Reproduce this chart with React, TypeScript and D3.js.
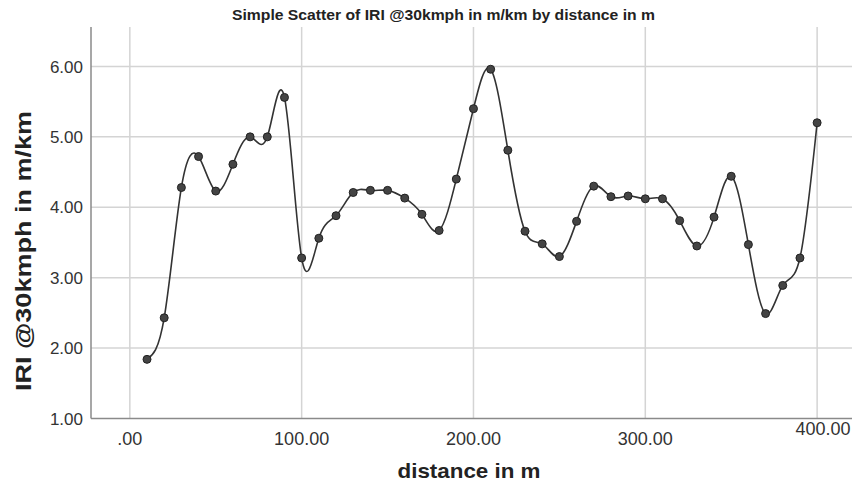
import React from "react";
import * as d3 from "d3";

const title = "Simple Scatter of IRI @30kmph in m/km by distance in m";
const xLabel = "distance in m";
const yLabel = "IRI @30kmph in m/km";

const distances = [10, 20, 30, 40, 50, 60, 70, 80, 90, 100, 110, 120, 130, 140, 150, 160, 170, 180, 190, 200,
  210, 220, 230, 240, 250, 260, 270, 280, 290, 300, 310, 320, 330, 340, 350, 360, 370, 380, 390, 400];
const iri = [1.84, 2.43, 4.28, 4.72, 4.23, 4.61, 5.0, 5.0, 5.56, 3.28, 3.56, 3.88, 4.21, 4.24, 4.24, 4.13, 3.9, 3.67, 4.4, 5.4,
  5.96, 4.81, 3.66, 3.48, 3.3, 3.8, 4.3, 4.15, 4.16, 4.12, 4.12, 3.81, 3.45, 3.86, 4.44, 3.47, 2.49, 2.89, 3.28, 5.2];

const xTicks = [0, 100, 200, 300, 400];
const yTicks = [1, 2, 3, 4, 5, 6];

const fmt = (v: number) => {
  const s = v.toFixed(2);
  return s.startsWith("0") ? s.slice(1) : s;
};

export default function App() {
  const W = 858, H = 489;
  const left = 91, right = 852, top = 27, bottom = 418.5;
  const x = d3.scaleLinear().domain([-22.6, 420.3]).range([left, right]);
  const y = d3.scaleLinear().domain([1, 6.56]).range([bottom, top]);
  const pts = distances.map((d, i) => [d, iri[i]] as [number, number]);
  const line = d3.line<[number, number]>().x(d => x(d[0])).y(d => y(d[1])).curve(d3.curveNatural);
  const font = "'Liberation Sans', Arial, sans-serif";
  return (
    <svg width={W} height={H} style={{ position: "absolute", left: 0, top: 0, background: "#fff" }} fontFamily={font}>
      <rect x={0} y={0} width={W} height={H} fill="#fff" />
      {yTicks.filter(t => t > 1).map(t => (
        <line key={"gy" + t} x1={left} x2={right} y1={y(t)} y2={y(t)} stroke="#d4d4d4" strokeWidth={1.5} />
      ))}
      {xTicks.map(t => (
        <line key={"gx" + t} x1={x(t)} x2={x(t)} y1={top} y2={bottom} stroke="#d4d4d4" strokeWidth={1.5} />
      ))}
      <line x1={left} x2={left} y1={top} y2={bottom} stroke="#8a8a8a" strokeWidth={1.5} />
      <line x1={left} x2={right} y1={bottom} y2={bottom} stroke="#8a8a8a" strokeWidth={1.5} />
      {yTicks.map(t => (
        <text key={"ty" + t} x={83} y={y(t)} dy="0.36em" textAnchor="end" fontSize={17} fill="#333">{fmt(t)}</text>
      ))}
      {xTicks.map((t, i) => (
        <text key={"tx" + t} x={i === xTicks.length - 1 ? x(t) + 6 : x(t)} y={i === xTicks.length - 1 ? 435 : 445} textAnchor="middle" fontSize={18} fill="#333">{fmt(t)}</text>
      ))}
      <path d={line(pts) || ""} fill="none" stroke="#333" strokeWidth={1.6} />
      {pts.map((p, i) => (
        <circle key={i} cx={x(p[0])} cy={y(p[1])} r={4} fill="#444" stroke="#222" strokeWidth={1} />
      ))}
      <text x={443.5} y={20} textAnchor="middle" fontSize={14} fontWeight="bold" fill="#222" textLength={423} lengthAdjust="spacingAndGlyphs">{title}</text>
      <text x={469} y={478} textAnchor="middle" fontSize={21} fontWeight="bold" fill="#222" textLength={143} lengthAdjust="spacingAndGlyphs">{xLabel}</text>
      <text transform={`translate(31,251) rotate(-90)`} textAnchor="middle" fontSize={22} fontWeight="bold" fill="#222" textLength={280} lengthAdjust="spacingAndGlyphs">{yLabel}</text>
    </svg>
  );
}
